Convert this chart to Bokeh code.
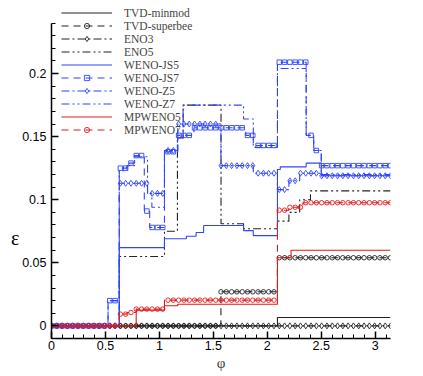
import numpy as np
from bokeh.plotting import figure
from bokeh.models import Range1d, FixedTicker, Legend, LegendItem, LinearAxis
from bokeh.embed import file_html
from bokeh.resources import INLINE

PHI_MAX = np.pi

# ---- data: step breakpoints (phi) and levels (epsilon) ----
minmod_x = [0, 2.094]
minmod_y = [0, 0.0066]

superbee_x = [0, 1.57, 2.094]
superbee_y = [0, 0.027, 0.054]

eno3_x = [0]
eno3_y = [0]

eno5_x = [0, 0.628, 1.047, 1.167, 1.22, 1.571, 1.78, 2.094, 2.2, 2.3, 2.4]
eno5_y = [0, 0.055, 0.075, 0.149, 0.175, 0.081, 0.077, 0.083, 0.09, 0.1, 0.107]

js5_x = [0, 0.628, 1.047, 1.25, 1.34, 1.41, 1.78, 1.87, 2.094, 2.12, 2.36, 2.5]
js5_y = [0, 0.062, 0.069, 0.071, 0.074, 0.0795, 0.0755, 0.0715, 0.124, 0.126, 0.129, 0.119]

js7_x = [0, 0.524, 0.628, 0.70, 0.77, 0.86, 0.91, 1.047, 1.17, 1.32, 1.80, 1.87, 2.094, 2.36, 2.43, 2.5]
js7_y = [0, 0.02, 0.125, 0.129, 0.135, 0.091, 0.078, 0.138, 0.151, 0.157, 0.151, 0.143, 0.209, 0.151, 0.139, 0.127]

z5_x = [0, 0.628, 0.89, 1.047, 1.17, 1.57, 1.87, 2.094, 2.2, 2.3, 2.5]
z5_y = [0, 0.113, 0.105, 0.139, 0.160, 0.127, 0.121, 0.108, 0.115, 0.121, 0.119]

z7_x = [0, 0.524, 0.628, 0.70, 0.77, 0.89, 0.93, 1.047, 1.167, 1.22, 1.78, 1.87, 2.094, 2.36, 2.43, 2.5]
z7_y = [0, 0.02, 0.123, 0.127, 0.134, 0.105, 0.094, 0.139, 0.149, 0.175, 0.164, 0.1415, 0.204, 0.151, 0.139, 0.12]

mp5_x = [0, 0.785, 1.047, 1.17, 2.094, 2.22]
mp5_y = [0, 0.0125, 0.016, 0.0172, 0.054, 0.06]

mp7_x = [0, 0.628, 0.70, 0.785, 1.047, 2.094, 2.2, 2.33]
mp7_y = [0, 0.0093, 0.0106, 0.0133, 0.0204, 0.0917, 0.094, 0.0976]

x_ticks = [0, 0.5, 1, 1.5, 2, 2.5, 3]
x_tick_labels = ["0", "0.5", "1", "1.5", "2", "2.5", "3"]
y_ticks = [0, 0.05, 0.1, 0.15, 0.2]
y_tick_labels = ["0", "0.05", "0.1", "0.15", "0.2"]

# y-axis title anchored at this epsilon level
eps_title_level = 0.07

# marker sample points (every solver grid point shown as a symbol)
marker_phi = np.linspace(0, PHI_MAX, 65)

BLACK = "#222222"
BLUE = "#2f45ff"
RED = "#e31a1a"
DASH = "7 5"
DASHDOT = "8 3 2 3"
DASHDOTDOT = "8 3 2 3 2 3"

series = [
    ("TVD-minmod", minmod_x, minmod_y, BLACK, "solid", None),
    ("TVD-superbee", superbee_x, superbee_y, BLACK, DASH, "circle"),
    ("ENO3", eno3_x, eno3_y, BLACK, DASHDOT, "diamond"),
    ("ENO5", eno5_x, eno5_y, BLACK, DASHDOTDOT, None),
    ("WENO-JS5", js5_x, js5_y, BLUE, "solid", None),
    ("WENO-JS7", js7_x, js7_y, BLUE, DASH, "square"),
    ("WENO-Z5", z5_x, z5_y, BLUE, DASHDOT, "diamond"),
    ("WENO-Z7", z7_x, z7_y, BLUE, DASHDOTDOT, None),
    ("MPWENO5", mp5_x, mp5_y, RED, "solid", None),
    ("MPWENO7", mp7_x, mp7_y, RED, DASH, "circle"),
]

p = figure(width=420, height=374, output_backend="svg", toolbar_location=None,
           x_range=Range1d(0, PHI_MAX), y_range=Range1d(-0.01, 0.2563),
           min_border_left=51, min_border_right=30, min_border_top=2, min_border_bottom=36)
p.grid.visible = False
p.outline_line_color = None
p.background_fill_color = "white"
p.border_fill_color = "white"

p.xaxis.ticker = FixedTicker(ticks=x_ticks, minor_ticks=[round(v, 2) for v in np.arange(0, 3.15, 0.1)])
p.yaxis.ticker = FixedTicker(ticks=y_ticks, minor_ticks=[round(v, 3) for v in np.arange(-0.01, 0.241, 0.01)])
p.xaxis.major_label_overrides = {t: l for t, l in zip(x_ticks, x_tick_labels)}
p.yaxis.major_label_overrides = {t: l for t, l in zip(y_ticks, y_tick_labels)}
p.yaxis.bounds = (-0.01, 0.24)

for ax in (p.xaxis[0], p.yaxis[0]):
    ax.axis_line_color = "black"
    ax.axis_line_width = 1.5
    ax.major_tick_in = 7
    ax.major_tick_out = 0
    ax.minor_tick_in = 4
    ax.minor_tick_out = 0
    ax.major_tick_line_width = 1.5
    ax.minor_tick_line_width = 1
    ax.major_tick_line_color = "black"
    ax.minor_tick_line_color = "black"
    ax.major_label_text_font = "Liberation Sans"
    ax.major_label_text_font_size = "12.5px"
    ax.major_label_text_color = "black"
p.xaxis.major_label_standoff = 2
p.yaxis.major_label_standoff = 5

p.xaxis.axis_label = "φ"
p.xaxis.axis_label_standoff = 2
p.xaxis.axis_label_text_font = "Liberation Serif"
p.xaxis.axis_label_text_font_size = "15px"
p.xaxis.axis_label_text_font_style = "normal"

# outer left axis whose single tick label is the y-axis title "ε"
eps_axis = LinearAxis(ticker=FixedTicker(ticks=[eps_title_level]),
                      major_label_overrides={eps_title_level: "ε"},
                      axis_line_color=None, major_tick_line_color=None,
                      minor_tick_line_color=None, major_tick_in=0, major_tick_out=0,
                      minor_tick_in=0, minor_tick_out=0, major_label_standoff=0,
                      major_label_text_font="Liberation Serif",
                      major_label_text_font_size="20px", major_label_text_color="black")
p.add_layout(eps_axis, "left")

items = []
for name, xs, ys, color, dash, marker in series:
    x = list(xs) + [PHI_MAX]
    y = list(ys) + [ys[-1]]
    rl = p.step(x, y, mode="after", line_color=color, line_width=1.1, line_dash=dash)
    rends = [rl]
    if marker is not None:
        idx = np.searchsorted(np.array(xs), marker_phi, side="right") - 1
        my = np.array(ys)[idx]
        size = 6 if marker == "diamond" else 4.5
        rm = p.scatter(marker_phi, my, marker=marker, size=size, line_color=color,
                       fill_color=None, line_width=0.9)
        rends.append(rm)
    items.append(LegendItem(label=name, renderers=rends))

legend = Legend(items=items, location=(10, 202), label_text_font="Liberation Serif",
                label_text_font_size="11.5px", glyph_width=51, glyph_height=13,
                label_height=13, spacing=0, padding=0, margin=0, label_standoff=12,
                border_line_color=None, background_fill_alpha=0)
p.add_layout(legend)

open("out.html", "w").write(file_html(p, INLINE))
